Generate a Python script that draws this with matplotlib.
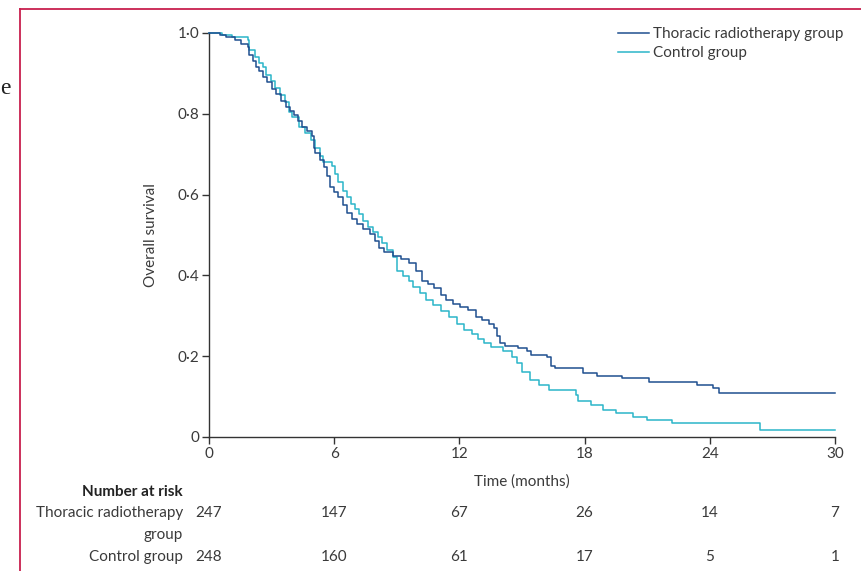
"""Kaplan-Meier overall survival: thoracic radiotherapy vs control."""
import matplotlib
matplotlib.use('Agg')
import matplotlib.pyplot as plt
from matplotlib.lines import Line2D
from matplotlib.transforms import blended_transform_factory

plt.rcParams['font.family'] = ['Lato', 'DejaVu Sans']

C = {'trt': '#1f4f8f', 'ctl': '#2bb5c9', 'axis': '#333333', 'text': '#3a3a3a',
     'frame': '#c8204e'}

# survival curves (months, survival proportion)
trt_t = [0, 0.55, 0.8, 1.25, 1.55, 1.85, 1.9, 2.1, 2.25, 2.4, 2.6, 2.8, 3.0, 3.2,
         3.45, 3.7, 3.9, 4.05, 4.25, 4.45, 4.7, 4.95, 5.05, 5.1, 5.3, 5.5, 5.65,
         5.8, 6.0, 6.2, 6.4, 6.6, 6.85, 7.1, 7.4, 7.7, 7.95, 8.15, 8.4, 8.8, 9.2,
         9.6, 9.9, 10.2, 10.5, 10.8, 11.1, 11.35, 11.7, 12.05, 12.4, 12.8, 13.1,
         13.4, 13.65, 13.8, 13.95, 14.2, 14.8, 15.25, 15.45, 16.2, 16.4, 16.6,
         17.9, 18.6, 19.8, 21.1, 23.4, 24.15, 24.45, 30]
trt_s = [1.0, 0.996, 0.991, 0.983, 0.974, 0.966, 0.946, 0.93, 0.917, 0.905, 0.892,
         0.878, 0.862, 0.848, 0.832, 0.818, 0.806, 0.796, 0.782, 0.768, 0.757,
         0.745, 0.715, 0.702, 0.686, 0.668, 0.645, 0.62, 0.607, 0.594, 0.575,
         0.555, 0.54, 0.528, 0.516, 0.503, 0.485, 0.467, 0.458, 0.447, 0.44,
         0.43, 0.41, 0.386, 0.378, 0.37, 0.352, 0.338, 0.33, 0.322, 0.315, 0.298,
         0.29, 0.28, 0.27, 0.25, 0.232, 0.226, 0.221, 0.212, 0.203, 0.198, 0.176,
         0.17, 0.158, 0.151, 0.146, 0.136, 0.129, 0.121, 0.109, 0.109]

ctl_t = [0, 0.6, 1.1, 1.85, 1.9, 2.2, 2.4, 2.6, 2.75, 2.95, 3.15, 3.4, 3.65, 3.85,
         4.0, 4.3, 4.6, 4.9, 5.1, 5.3, 5.45, 5.9, 6.05, 6.2, 6.4, 6.6, 6.8, 7.0,
         7.2, 7.4, 7.6, 7.85, 8.1, 8.3, 8.55, 8.8, 9.0, 9.3, 9.6, 9.8, 10.1, 10.4,
         10.75, 11.1, 11.5, 11.9, 12.2, 12.6, 12.9, 13.2, 13.5, 14.1, 14.5, 14.75,
         15.0, 15.4, 15.8, 16.3, 17.6, 17.7, 18.3, 18.9, 19.5, 20.3, 21.0, 22.2,
         26.4, 30]
ctl_s = [1.0, 0.996, 0.991, 0.983, 0.958, 0.941, 0.925, 0.917, 0.896, 0.88, 0.863,
         0.846, 0.83, 0.805, 0.793, 0.768, 0.752, 0.735, 0.715, 0.695, 0.68,
         0.672, 0.65, 0.63, 0.61, 0.594, 0.577, 0.565, 0.552, 0.535, 0.52, 0.508,
         0.494, 0.48, 0.462, 0.445, 0.41, 0.398, 0.385, 0.372, 0.356, 0.34,
         0.326, 0.313, 0.298, 0.28, 0.266, 0.254, 0.243, 0.232, 0.222, 0.212,
         0.198, 0.183, 0.16, 0.142, 0.128, 0.116, 0.104, 0.088, 0.079, 0.067,
         0.059, 0.05, 0.042, 0.035, 0.017, 0.017]

risk_times = [0, 6, 12, 18, 24, 30]
risk_trt = [247, 147, 67, 26, 14, 7]
risk_ctl = [248, 160, 61, 17, 5, 1]
y_ticks = [0, 0.2, 0.4, 0.6, 0.8, 1.0]
y_ticklabels = ['0', '0·2', '0·4', '0·6', '0·8', '1·0']

FS = 11

fig = plt.figure(figsize=(8.61, 5.71), dpi=100)
ax = fig.add_axes([209/861, 134/571, 626/861, 404/571])

ax.step(trt_t, trt_s, where='post', color=C['trt'], lw=1.1, clip_on=False,
        label='Thoracic radiotherapy group', zorder=3)
ax.step(ctl_t, ctl_s, where='post', color=C['ctl'], lw=1.1, clip_on=False,
        label='Control group', zorder=2)

ax.set_xlim(0, 30)
ax.set_ylim(0, 1.0)
ax.set_xticks(risk_times)
ax.set_yticks(y_ticks)
ax.set_yticklabels(y_ticklabels)
ax.tick_params(colors=C['axis'], labelcolor=C['text'], labelsize=FS, length=5,
               width=1, pad=2)
for s in ['top', 'right']:
    ax.spines[s].set_visible(False)
for s in ['left', 'bottom']:
    ax.spines[s].set_color(C['axis'])
    ax.spines[s].set_linewidth(1)

ax.set_xlabel('Time (months)', fontsize=FS, color=C['text'], labelpad=10)
ax.set_ylabel('Overall survival', fontsize=FS, color=C['text'], labelpad=14)

ax.legend(loc='upper left', bbox_to_anchor=(618/861, 1 - 27/571),
          bbox_transform=fig.transFigure, frameon=False, fontsize=FS,
          handlelength=2.0, handletextpad=0.3, labelspacing=0.33,
          borderpad=0, borderaxespad=0, labelcolor=C['text'])

# number at risk table
tr = blended_transform_factory(ax.transData, fig.transFigure)
lx = 183/861
fig.text(lx, 1 - 492/571, 'Number at risk', ha='right', va='center',
         fontsize=FS, fontweight='bold', color='#222222')
fig.text(lx, 1 - 513/571, 'Thoracic radiotherapy', ha='right', va='center',
         fontsize=FS, color=C['text'])
fig.text(lx, 1 - 535/571, 'group', ha='right', va='center', fontsize=FS,
         color=C['text'])
fig.text(lx, 1 - 557/571, 'Control group', ha='right', va='center',
         fontsize=FS, color=C['text'])
for t, a, b in zip(risk_times, risk_trt, risk_ctl):
    ax.text(t, 1 - 513/571, str(a), transform=tr, ha='center', va='center',
            fontsize=FS, color=C['text'])
    ax.text(t, 1 - 557/571, str(b), transform=tr, ha='center', va='center',
            fontsize=FS, color=C['text'])

# page frame and stray text from the source page
fx = 20/861
fy = 1 - 9/571
fig.add_artist(Line2D([fx, 1], [fy, fy], transform=fig.transFigure,
                      color=C['frame'], lw=1.3))
fig.add_artist(Line2D([fx, fx], [0, fy], transform=fig.transFigure,
                      color=C['frame'], lw=1.3))
fig.text(0.0, 1 - 89/571, 'e', ha='left', va='center', fontsize=17,
         family='Liberation Serif', color='#222222')

fig.savefig('out.png', dpi=100, facecolor='white')
plt.close(fig)
